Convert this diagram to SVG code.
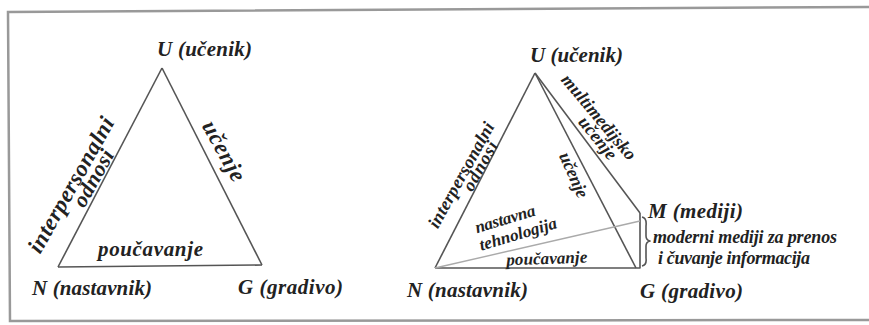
<svg xmlns="http://www.w3.org/2000/svg" width="869" height="325" viewBox="0 0 869 325">
<style>
  .t { font-family: "Liberation Serif", "DejaVu Serif", serif; font-style: italic; font-weight: bold; fill: #222; }
  .lbl { font-size: 21px; }
  .sm { font-size: 18px; }
  .rot { font-size: 21px; dominant-baseline: central; text-anchor: middle; }
  .edge { stroke: #555; stroke-width: 1.6; fill: none; stroke-linejoin: round; }
  .light { stroke: #aaa; stroke-width: 1.4; fill: none; }
  .frame { stroke: #999; stroke-width: 2.5; fill: none; }
</style>
<rect width="869" height="325" fill="#fff"/>
<path class="frame" d="M869,7 L8,12 L10,321 L869,320"/>

<g id="connectors">
  <path class="edge" d="M162,68 L58,267"/>
  <path class="edge" d="M162,68 L262,265"/>
  <path class="edge" d="M58,267 L262,265"/>
  <path class="edge" d="M535,73 L435,268"/>
  <path class="edge" d="M535,73 L636,268"/>
  <path class="edge" d="M435,268 L636,268"/>
  <path class="edge" d="M535,73 L640,213"/>
  <path class="edge" d="M640,213 L640,268 L636,268"/>
  <path class="light" d="M435,268 L640,221"/>
  <path class="edge" d="M642,217 Q647,218 646,226 L646,236 Q646,240 650,241 Q646,242 646,246 L646,258 Q647,265 642,266" stroke-width="1.3"/>
</g>

<g id="left-U"><text class="t lbl" x="157" y="56" textLength="95">U (učenik)</text></g>
<g id="left-N"><text class="t lbl" x="32" y="295" textLength="120">N (nastavnik)</text></g>
<g id="left-G"><text class="t lbl" x="238" y="294" textLength="105">G (gradivo)</text></g>
<g id="left-labels">
  <text class="t lbl" x="98" y="256" textLength="105">poučavanje</text>
  <text class="t rot" style="font-size:23px" transform="translate(71,185) rotate(-60.5)" textLength="152">interpersonalni</text>
  <text class="t rot" style="font-size:22px" transform="translate(93,178) rotate(-60.5)" textLength="62">odnosi</text>
  <text class="t rot" style="font-size:23px" transform="translate(224,151) rotate(61)" textLength="66">učenje</text>
</g>

<g id="right-U"><text class="t lbl" x="530" y="62" textLength="93">U (učenik)</text></g>
<g id="right-N"><text class="t lbl" x="407" y="297" textLength="121">N (nastavnik)</text></g>
<g id="right-G"><text class="t lbl" x="640" y="298" textLength="103">G (gradivo)</text></g>
<g id="right-M">
  <text class="t lbl" x="648" y="218" textLength="95">M (mediji)</text>
  <text class="t sm" x="653" y="243" textLength="184">moderni mediji za prenos</text>
  <text class="t sm" x="658" y="264" textLength="152">i čuvanje informacija</text>
</g>
<g id="right-labels">
  <text class="t rot" style="font-size:18px" transform="translate(461,175) rotate(-61)" textLength="118">interpersonalni</text>
  <text class="t rot" style="font-size:18px" transform="translate(480,166) rotate(-61)" textLength="54">odnosi</text>
  <text class="t rot" style="font-size:18px" transform="translate(574,175) rotate(66)" textLength="48">učenje</text>
  <text class="t rot" style="font-size:18px" transform="translate(599,117) rotate(50)" textLength="106">multimedijsko</text>
  <text class="t rot" style="font-size:18px" transform="translate(598,138) rotate(51)" textLength="50">učenje</text>
  <text class="t rot" style="font-size:17px" transform="translate(505,219) rotate(-16.7)" textLength="62">nastavna</text>
  <text class="t rot" style="font-size:17px" transform="translate(518,234) rotate(-16.6)" textLength="80">tehnologija</text>
  <text class="t" style="font-size:17px" transform="translate(547,264) rotate(-2)" text-anchor="middle" textLength="81">poučavanje</text>
</g>
</svg>
